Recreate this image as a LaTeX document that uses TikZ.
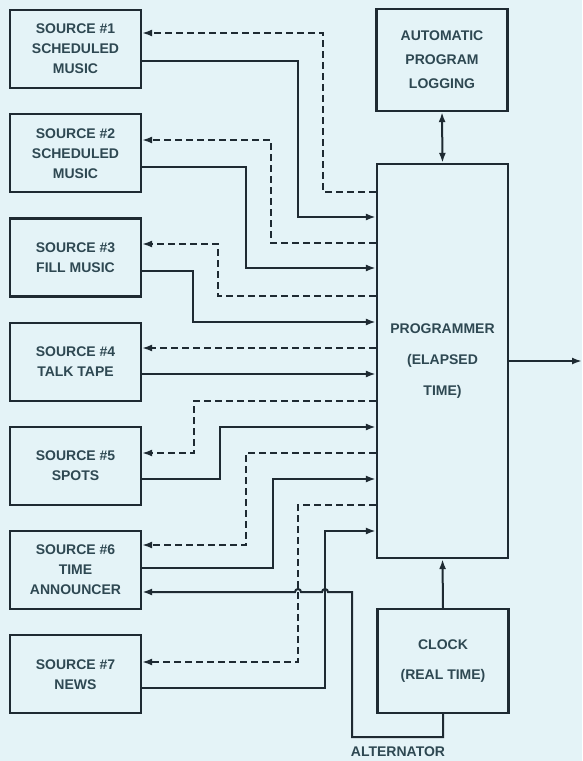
\documentclass[tikz,border=0pt]{standalone}
\usepackage{fontspec}
\setmainfont{Liberation Sans}
\usetikzlibrary{positioning, arrows.meta}

\definecolor{paper}{HTML}{E4F3F7}
\definecolor{ink}{HTML}{1E2A32}
\definecolor{lettering}{HTML}{2E4852}

\tikzset{
  srcbox/.style={draw=ink, line width=2.2pt, minimum width=131pt, minimum height=78pt,
    inner sep=0pt, align=center, text=lettering, font=\bfseries\fontsize{14}{20}\selectfont},
  bigbox/.style={srcbox, minimum width=131pt},
  sigline/.style={draw=ink, line width=2pt},
  dashline/.style={draw=ink, line width=1.8pt, dash pattern=on 7pt off 4pt},
  arrowed/.style={-{Latex[length=10pt,width=7pt]}},
}

\begin{document}
\begin{tikzpicture}[x=1pt, y=-1pt]
  \useasboundingbox (0,0) rectangle (582,761);
  \fill[paper] (0,0) rectangle (582,761);

  % Source boxes
  \node[srcbox] (src1) at (75.5,49) {SOURCE \#1\\SCHEDULED\\MUSIC};
  \node[srcbox, below=24pt of src1] (src2) {SOURCE \#2\\SCHEDULED\\MUSIC};
  \node[srcbox, below=24pt of src2] (src3) {SOURCE \#3\\FILL MUSIC};
  \node[srcbox, below=24pt of src3] (src4) {SOURCE \#4\\TALK TAPE};
  \node[srcbox, below=24pt of src4] (src5) {SOURCE \#5\\SPOTS};
  \node[srcbox, below=24pt of src5] (src6) {SOURCE \#6\\TIME\\ANNOUNCER};
  \node[srcbox, below=24pt of src6] (src7) {SOURCE \#7\\NEWS};

  % Right column
  \node[bigbox, minimum height=102pt, font=\bfseries\fontsize{14}{24}\selectfont] (log) at (442,60) {AUTOMATIC\\PROGRAM\\LOGGING};
  \node[bigbox, minimum height=394pt, font=\bfseries\fontsize{14}{31}\selectfont] (prog) at (442.5,361) {PROGRAMMER\\(ELAPSED\\TIME)};
  \node[bigbox, minimum height=104pt, font=\bfseries\fontsize{14}{30}\selectfont] (clock) at (443,661) {CLOCK\\(REAL TIME)};
  \coordinate (out) at (582,361);
  \coordinate (altbend) at (352,737);

  \draw[sigline, {Latex[length=10pt,width=7pt]}-{Latex[length=10pt,width=7pt]}] (log.south) -- (prog.north);
  \draw[sigline, arrowed] (clock.north) -- (prog.south);
  \draw[sigline, arrowed] (prog.east) -- (out);

  % Cue lines (dashed) and programme lines (solid)
  \foreach \i/\ya/\xd/\yd/\yb/\xs/\ye in {1/33/323/192/61/298/217, 2/140/271/243/167/246/268,
      3/244/218/296/271/193/322, 4/348/260/348/374/260/374, 5/453/194/401/479/220/427,
      6/545/246/453/568/273/479, 7/662/298/505/688/325/531} {
    \draw[dashline, arrowed] (prog.west |- 0,\yd) -| (\xd,\ya) -- (src\i.east |- 0,\ya);
    \draw[sigline, arrowed] (src\i.east |- 0,\yb) -| (\xs,\ye) -- (prog.west |- 0,\ye);
  }

  % Alternator feed to time announcer
  \draw[sigline, arrowed] (clock.south) -- (clock.south |- altbend) -- (altbend) -- (352,592)
    -- (328,592) arc (0:-180:3) -- (301,592) arc (0:-180:3) -- (src6.east |- 0,592);
  \node[text=lettering, font=\bfseries\fontsize{14}{16}\selectfont] (altlabel) at (398,752) {ALTERNATOR};
\end{tikzpicture}
\end{document}
